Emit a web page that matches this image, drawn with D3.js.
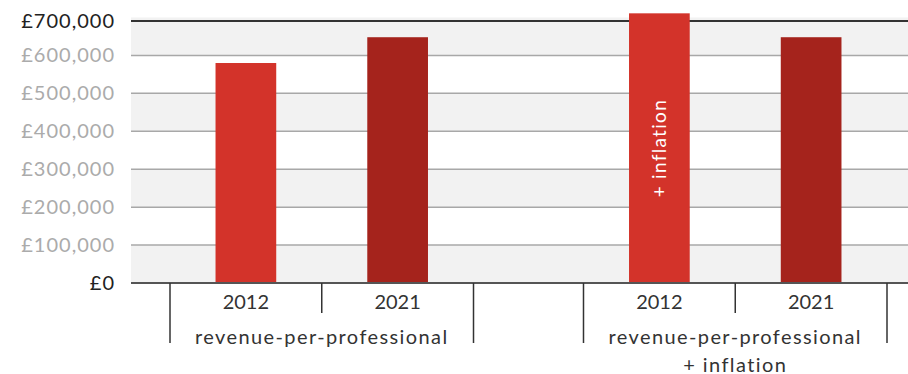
<!DOCTYPE html>
<html>
<head>
<meta charset="utf-8">
<script src="https://cdn.jsdelivr.net/npm/d3@7"></script>
<style>
  body { margin: 0; background: #fff; }
  svg { display: block; font-family: Lato, sans-serif; }
</style>
</head>
<body>
<svg id="chart" width="908" height="374"></svg>
<script>
// data
const groups = ["revenue-per-professional", "revenue-per-professional|+ inflation"];
const years = ["2012", "2021"];
const values = [
  [580000, 648000],
  [711000, 648000]
];
const yTicks = [0, 100000, 200000, 300000, 400000, 500000, 600000, 700000];
const barColors = ["#d3332a", "#a5231c"];
const barNote = "+ inflation";

const plotLeft = 131, plotRight = 908, plotBottom = 283, plotTop = 17.5;

const svg = d3.select("#chart");

const y = d3.scaleLinear().domain([0, 700000]).range([plotBottom, plotTop]);

const x0 = d3.scaleBand()
  .domain(groups)
  .range([170, 887])
  .paddingInner(0.266)
  .paddingOuter(0);

const x1 = d3.scaleBand()
  .domain(years)
  .range([0, x0.bandwidth()])
  .paddingInner(0.6)
  .paddingOuter(0.3);

// alternating background bands
svg.append("g")
  .selectAll("rect")
  .data(yTicks.slice(0, -1))
  .join("rect")
  .attr("x", plotLeft)
  .attr("width", plotRight - plotLeft)
  .attr("y", d => y(d + 100000))
  .attr("height", d => y(d) - y(d + 100000))
  .attr("fill", (d, i) => i % 2 === 0 ? "#f2f2f2" : "#fff");

// grid lines
svg.append("g")
  .selectAll("line")
  .data(yTicks.slice(1, -1))
  .join("line")
  .attr("x1", plotLeft).attr("x2", plotRight)
  .attr("y1", d => y(d)).attr("y2", d => y(d))
  .attr("stroke", "#a8a8a8")
  .attr("stroke-width", 1.5);

// top dark rule (sits a touch below the 700k line)
svg.append("line")
  .attr("x1", plotLeft).attr("x2", plotRight)
  .attr("y1", y(700000) + 3.5).attr("y2", y(700000) + 3.5)
  .attr("stroke", "#333")
  .attr("stroke-width", 2);

// y labels
svg.append("g")
  .selectAll("text")
  .data(yTicks)
  .join("text")
  .attr("x", 115)
  .attr("y", d => d === 700000 ? y(d) + 3.5 : y(d))
  .attr("dy", "0.35em")
  .attr("text-anchor", "end")
  .attr("font-size", 20)
  .attr("letter-spacing", 1)
  .attr("fill", d => (d === 0 || d === 700000) ? "#222" : "#ababab")
  .text(d => "£" + d3.format(",")(d));

// bars
const gBars = svg.append("g")
  .selectAll("g")
  .data(groups)
  .join("g")
  .attr("transform", g => `translate(${x0(g)},0)`);

gBars.selectAll("rect")
  .data((g, gi) => years.map((yr, i) => ({ yr, v: values[gi][i], i, gi })))
  .join("rect")
  .attr("x", d => x1(d.yr))
  .attr("width", x1.bandwidth())
  .attr("y", d => y(d.v))
  .attr("height", d => y(0) - y(d.v))
  .attr("fill", d => barColors[d.i]);

// rotated note on the inflated bar
const nb = { g: groups[1], yr: years[0], v: values[1][0] };
svg.append("text")
  .attr("transform", `translate(${x0(nb.g) + x1(nb.yr) + x1.bandwidth() / 2},${(y(nb.v) + y(0)) / 2}) rotate(-90)`)
  .attr("text-anchor", "middle")
  .attr("dy", "0.35em")
  .attr("font-size", 19)
  .attr("letter-spacing", 1.3)
  .attr("fill", "#fff")
  .text(barNote);

// x axis line
svg.append("line")
  .attr("x1", plotLeft).attr("x2", plotRight)
  .attr("y1", plotBottom).attr("y2", plotBottom)
  .attr("stroke", "#555")
  .attr("stroke-width", 2);

// ticks: outer group boundaries long, year boundary short
const tickG = svg.append("g").attr("stroke", "#333").attr("stroke-width", 1.5);
groups.forEach(g => {
  const x = x0(g);
  [x, x + x0.bandwidth()].forEach(t => {
    tickG.append("line").attr("x1", t).attr("x2", t).attr("y1", plotBottom).attr("y2", 343);
  });
  const mid = x + x0.bandwidth() / 2;
  tickG.append("line").attr("x1", mid).attr("x2", mid).attr("y1", plotBottom).attr("y2", 313);
});

// year labels
groups.forEach(g => {
  svg.append("g")
    .selectAll("text")
    .data(years)
    .join("text")
    .attr("x", yr => x0(g) + x1(yr) + x1.bandwidth() / 2)
    .attr("y", 302)
    .attr("dy", "0.35em")
    .attr("text-anchor", "middle")
    .attr("font-size", 20)
    .attr("fill", "#333")
    .text(yr => yr);
});

// group labels
svg.append("g")
  .selectAll("text")
  .data(groups)
  .join("text")
  .attr("x", g => x0(g) + x0.bandwidth() / 2)
  .attr("y", 337)
  .attr("text-anchor", "middle")
  .attr("font-size", 20)
  .attr("letter-spacing", 1.4)
  .attr("fill", "#333")
  .each(function (g) {
    g.split("|").forEach((line, i) => {
      d3.select(this).append("tspan")
        .attr("x", x0(g) + x0.bandwidth() / 2)
        .attr("dy", i === 0 ? "0.35em" : 28)
        .text(line);
    });
  });
</script>
</body>
</html>
